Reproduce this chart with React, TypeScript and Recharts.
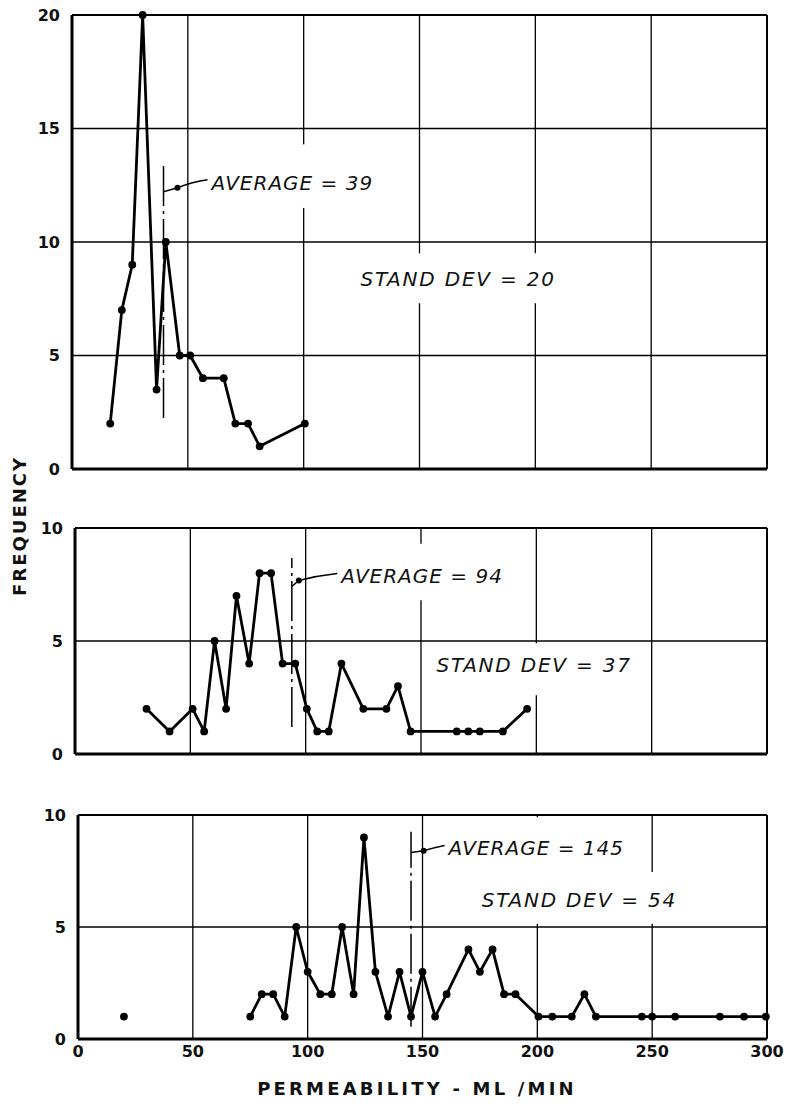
import React from "react";
import {
  LineChart,
  Line,
  XAxis,
  YAxis,
  CartesianGrid,
  ReferenceLine,
  ReferenceArea,
  ReferenceDot,
} from "recharts";

const xTicks = [0, 50, 100, 150, 200, 250, 300];
const topYTicks = [0, 5, 10, 15, 20];
const lowYTicks = [0, 5, 10];

// upper sample
const topPerm = [16.5, 21.5, 26, 30.5, 36.5, 40.5, 46.5, 51, 56.5, 65.5, 70.5, 76, 81, 100.5];
const topFreq = [2, 7, 9, 20, 3.5, 10, 5, 5, 4, 4, 2, 2, 1, 2];
const topAvg = 39.5;
const topSd = 20;

// middle sample
const midPerm = [31, 41, 51, 56, 60.5, 65.5, 70, 75.5, 80, 85, 90, 95.5, 100.5, 105, 110, 115.5, 125, 135, 140, 145.5, 165.5, 170.5, 175.5, 185.5, 196];
const midFreq = [2, 1, 2, 1, 5, 2, 7, 4, 8, 8, 4, 4, 2, 1, 1, 4, 2, 2, 3, 1, 1, 1, 1, 1, 2];
const midAvg = 94;
const midSd = 37;

// lower sample
const lowPerm = [75, 80, 85, 90, 95, 100, 105.5, 110.5, 115, 120, 124.5, 129.5, 135, 140, 145, 150, 155.5, 160.5, 170, 175, 180.5, 185.5, 190.5, 200.5, 206.5, 215, 220.5, 225.5, 245.5, 250, 260, 279.5, 290, 299.5];
const lowFreq = [1, 2, 2, 1, 5, 3, 2, 2, 5, 2, 9, 3, 1, 3, 1, 3, 1, 2, 4, 3, 4, 2, 2, 1, 1, 1, 2, 1, 1, 1, 1, 1, 1, 1];
const lowStrayPerm = [20];
const lowStrayFreq = [1];
const lowAvg = 145;
const lowSd = 54;

const pts = (xs: number[], ys: number[]) => xs.map((x, i) => ({ x, y: ys[i] }));

const FONT = "DejaVu Sans";
const INK = "#111";
const YAXIS_W = 60;

const tickStyle = { fill: INK, fontSize: 16, fontWeight: 700, fontFamily: FONT };
const dotStyle = { r: 3.9, fill: "#000", stroke: "none" };
const mask = { fill: "#fff", fillOpacity: 1, stroke: "none" };
const noTick = () => <g />;

function AvgNote(props: any) {
  const { viewBox, text, arrowDy, dotDx, dotDy, textDx, textDy } = props;
  if (!viewBox) return null;
  const x = viewBox.x;
  const y = viewBox.y;
  const dx = x + dotDx;
  const dy = y + dotDy;
  const ex = x + textDx - 4;
  const ey = y + textDy - 2;
  return (
    <g>
      <path
        d={`M${x},${y + arrowDy} L${dx},${dy} Q${(dx + ex) / 2},${ey + 1} ${ex},${ey - 1}`}
        stroke="#000"
        strokeWidth={1.5}
        fill="none"
      />
      <circle cx={dx} cy={dy} r={3} fill="#000" />
      <text
        x={x + textDx}
        y={y + textDy}
        dominantBaseline="central"
        fontFamily={FONT}
        fontStyle="italic"
        fontSize={20}
        letterSpacing={1}
        fill={INK}
      >
        {text}
      </text>
    </g>
  );
}

const sdText = (text: string) => (p: any) => (
  <text
    x={p.cx}
    y={p.cy}
    dominantBaseline="central"
    fontFamily={FONT}
    fontStyle="italic"
    fontSize={20}
    letterSpacing={1.8}
    fill={INK}
  >
    {text}
  </text>
);

export default function App() {
  return (
    <div style={{ position: "absolute", left: 0, top: 0, width: 786, height: 1104, background: "#fff" }}>
      {/* upper panel */}
      <div style={{ position: "absolute", left: 0, top: 0 }}>
        <LineChart width={786} height={480} margin={{ top: 15, right: 19, bottom: 9, left: 72 - YAXIS_W }}>
          <CartesianGrid stroke="#000" strokeWidth={1.3} />
          <XAxis type="number" dataKey="x" domain={[0, 300]} ticks={xTicks} tick={noTick} tickLine={false} tickSize={0} height={2} axisLine={{ stroke: "#000", strokeWidth: 3 }} />
          <YAxis type="number" domain={[0, 20]} ticks={topYTicks} width={YAXIS_W} tickLine={false} tickSize={0} tickMargin={12} tick={tickStyle} axisLine={{ stroke: "#000", strokeWidth: 3 }} />
          <ReferenceLine y={20} stroke="#000" strokeWidth={2} />
          <ReferenceLine x={300} stroke="#000" strokeWidth={2} />
          <ReferenceArea x1={97} x2={103} y1={11.5} y2={14.3} {...mask} />
          <ReferenceArea x1={140} x2={210} y1={7.3} y2={9.5} {...mask} />
          <Line data={pts(topPerm, topFreq)} dataKey="y" stroke="#000" strokeWidth={2.8} strokeLinejoin="round" dot={dotStyle} isAnimationActive={false} />
          <ReferenceLine
            segment={[{ x: topAvg, y: 2.25 }, { x: topAvg, y: 13.4 }]}
            stroke="#000"
            strokeWidth={1.5}
            strokeDasharray="40 5 3 5"
            label={<AvgNote text={`AVERAGE = ${Math.round(topAvg - 0.5)}`} arrowDy={27} dotDx={14} dotDy={23} textDx={48} textDy={18} />}
          />
          <ReferenceDot x={124.5} y={8.37} r={0} shape={sdText(`STAND DEV = ${topSd}`)} />
        </LineChart>
      </div>

      {/* middle panel */}
      <div style={{ position: "absolute", left: 0, top: 500 }}>
        <LineChart width={786} height={270} margin={{ top: 28, right: 19, bottom: 14, left: 75 - YAXIS_W }}>
          <CartesianGrid stroke="#000" strokeWidth={1.3} />
          <XAxis type="number" dataKey="x" domain={[0, 300]} ticks={xTicks} tick={noTick} tickLine={false} tickSize={0} height={2} axisLine={{ stroke: "#000", strokeWidth: 3 }} />
          <YAxis type="number" domain={[0, 10]} ticks={lowYTicks} width={YAXIS_W} tickLine={false} tickSize={0} tickMargin={12} tick={tickStyle} axisLine={{ stroke: "#000", strokeWidth: 3 }} />
          <ReferenceLine y={10} stroke="#000" strokeWidth={2} />
          <ReferenceLine x={300} stroke="#000" strokeWidth={2} />
          <ReferenceArea x1={145} x2={155} y1={6.8} y2={9.3} {...mask} />
          <ReferenceArea x1={195} x2={205} y1={2.6} y2={4.9} {...mask} />
          <Line data={pts(midPerm, midFreq)} dataKey="y" stroke="#000" strokeWidth={2.8} strokeLinejoin="round" dot={dotStyle} isAnimationActive={false} />
          <ReferenceLine
            segment={[{ x: midAvg, y: 1.2 }, { x: midAvg, y: 8.67 }]}
            stroke="#000"
            strokeWidth={1.5}
            strokeDasharray="40 5 3 5"
            label={<AvgNote text={`AVERAGE = ${midAvg}`} arrowDy={28.4} dotDx={7} dotDy={22.4} textDx={49.4} textDy={18.4} />}
          />
          <ReferenceDot x={156.7} y={3.94} r={0} shape={sdText(`STAND DEV = ${midSd}`)} />
        </LineChart>
      </div>

      {/* lower panel */}
      <div style={{ position: "absolute", left: 0, top: 790 }}>
        <LineChart width={786} height={314} margin={{ top: 25, right: 19, bottom: 30, left: 78 - YAXIS_W }}>
          <CartesianGrid stroke="#000" strokeWidth={1.3} />
          <XAxis type="number" dataKey="x" domain={[0, 300]} ticks={xTicks} tickLine={false} tickSize={0} tickMargin={7} height={35} tick={tickStyle} axisLine={{ stroke: "#000", strokeWidth: 3 }} />
          <YAxis type="number" domain={[0, 10]} ticks={lowYTicks} width={YAXIS_W} tickLine={false} tickSize={0} tickMargin={12} tick={tickStyle} axisLine={{ stroke: "#000", strokeWidth: 3 }} />
          <ReferenceLine y={10} stroke="#000" strokeWidth={2} />
          <ReferenceLine x={300} stroke="#000" strokeWidth={2} />
          <ReferenceArea x1={195} x2={205} y1={5.15} y2={9.9} {...mask} />
          <ReferenceArea x1={245} x2={255} y1={5.15} y2={7.45} {...mask} />
          <Line data={pts(lowStrayPerm, lowStrayFreq)} dataKey="y" stroke="none" dot={dotStyle} isAnimationActive={false} />
          <Line data={pts(lowPerm, lowFreq)} dataKey="y" stroke="#000" strokeWidth={2.8} strokeLinejoin="round" dot={dotStyle} isAnimationActive={false} />
          <ReferenceLine
            segment={[{ x: lowAvg, y: 0.55 }, { x: lowAvg, y: 9.25 }]}
            stroke="#000"
            strokeWidth={1.5}
            strokeDasharray="40 5 3 5"
            label={<AvgNote text={`AVERAGE = ${lowAvg}`} arrowDy={20.6} dotDx={12.6} dotDy={19} textDx={37.6} textDy={16.6} />}
          />
          <ReferenceDot x={175.8} y={6.2} r={0} shape={sdText(`STAND DEV = ${lowSd}`)} />
        </LineChart>
      </div>

      <div
        style={{
          position: "absolute",
          left: 19,
          top: 526,
          transform: "translate(-50%, -50%) rotate(-90deg)",
          fontFamily: FONT,
          fontWeight: 700,
          fontSize: 18,
          letterSpacing: 2,
          color: INK,
          whiteSpace: "nowrap",
        }}
      >
        FREQUENCY
      </div>
      <div
        style={{
          position: "absolute",
          left: 417,
          top: 1088,
          transform: "translate(-50%, -50%)",
          fontFamily: FONT,
          fontWeight: 700,
          fontSize: 18,
          letterSpacing: 3.2,
          color: INK,
          whiteSpace: "nowrap",
        }}
      >
        PERMEABILITY - ML /MIN
      </div>
    </div>
  );
}
